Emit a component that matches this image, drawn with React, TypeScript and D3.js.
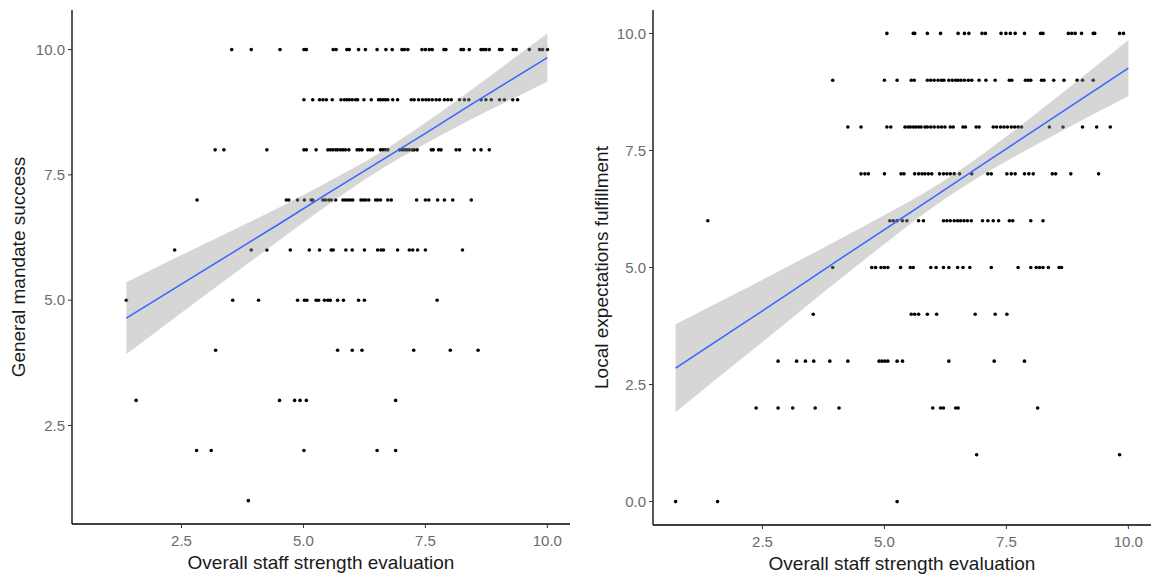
import React from "react";
import * as d3 from "d3";

// x value (overall staff strength evaluation) of each point, grouped by integer y row
const leftRowValues = [10, 9, 8, 7, 6, 5, 4, 3, 2, 1];
const leftRowX = [
  [3.53, 3.93, 4.52, 5.01, 5.06, 5.61, 5.67, 5.89, 5.94, 6.13, 6.27, 6.51, 6.69, 6.82, 7.02, 7.07, 7.14, 7.43, 7.5, 7.58, 7.64, 7.88, 7.92, 8.23, 8.28, 8.4, 8.64, 8.69, 8.74, 8.81, 9.02, 9.07, 9.3, 9.36, 9.63, 9.84, 9.9, 10.0],
  [5.01, 5.19, 5.33, 5.4, 5.47, 5.59, 5.77, 5.84, 5.89, 5.94, 6.0, 6.07, 6.11, 6.24, 6.39, 6.54, 6.58, 6.63, 6.68, 6.73, 6.83, 6.93, 7.21, 7.27, 7.36, 7.44, 7.51, 7.57, 7.64, 7.72, 7.79, 7.89, 7.96, 8.03, 8.2, 8.3, 8.39, 8.64, 8.74, 8.85, 9.02, 9.12, 9.29, 9.39],
  [3.19, 3.37, 4.25, 5.01, 5.06, 5.26, 5.5, 5.55, 5.6, 5.66, 5.7, 5.76, 5.81, 5.86, 5.93, 6.1, 6.15, 6.2, 6.32, 6.37, 6.42, 6.58, 6.63, 6.68, 6.73, 6.97, 7.02, 7.07, 7.12, 7.17, 7.23, 7.27, 7.33, 7.62, 7.66, 7.77, 7.82, 8.13, 8.2, 8.5, 8.64, 8.81],
  [2.82, 4.65, 4.7, 4.88, 5.02, 5.16, 5.19, 5.4, 5.45, 5.52, 5.57, 5.66, 5.81, 5.86, 5.91, 5.96, 6.01, 6.18, 6.23, 6.28, 6.34, 6.48, 6.52, 6.58, 6.73, 6.8, 7.32, 7.5, 7.57, 7.75, 7.89, 8.06, 8.44],
  [2.36, 3.93, 4.25, 4.73, 5.12, 5.33, 5.57, 5.61, 5.87, 6.0, 6.25, 6.52, 6.59, 6.64, 6.93, 7.17, 7.24, 7.34, 7.5, 8.26],
  [1.37, 3.55, 4.08, 4.88, 5.02, 5.07, 5.26, 5.31, 5.43, 5.5, 5.55, 5.7, 5.82, 6.13, 6.25, 7.74],
  [3.2, 5.7, 6.0, 6.2, 7.26, 8.01, 8.58],
  [1.57, 4.51, 4.82, 4.93, 5.06, 6.89],
  [2.81, 3.11, 5.01, 6.51, 6.89],
  [3.87],
];

const rightRowValues = [10, 9, 8, 7, 6, 5, 4, 3, 2, 1, 0];
const rightRowX = [
  [5.05, 5.59, 5.62, 5.88, 6.15, 6.51, 6.64, 6.73, 7.0, 7.07, 7.39, 7.49, 7.58, 7.68, 7.87, 8.2, 8.25, 8.77, 8.84, 8.91, 9.04, 9.28, 9.31, 9.82, 9.9],
  [3.94, 5.0, 5.26, 5.55, 5.61, 5.88, 5.95, 6.02, 6.1, 6.17, 6.22, 6.32, 6.39, 6.46, 6.51, 6.57, 6.64, 6.72, 6.79, 6.94, 7.08, 7.27, 7.56, 7.61, 7.89, 7.95, 8.0, 8.22, 8.27, 8.47, 8.68, 8.95, 9.06, 9.28],
  [4.25, 4.52, 5.05, 5.13, 5.42, 5.48, 5.53, 5.59, 5.64, 5.7, 5.75, 5.83, 5.88, 5.95, 6.02, 6.1, 6.17, 6.24, 6.35, 6.41, 6.61, 6.66, 6.88, 6.94, 7.23, 7.3, 7.38, 7.45, 7.52, 7.6, 7.67, 7.74, 7.81, 8.38, 8.66, 9.06, 9.35, 9.63],
  [4.52, 4.6, 4.67, 5.0, 5.34, 5.4, 5.62, 5.7, 5.77, 5.83, 5.9, 5.97, 6.13, 6.21, 6.28, 6.35, 6.43, 6.54, 6.79, 7.12, 7.19, 7.51, 7.6, 7.68, 7.87, 7.96, 8.05, 8.44, 8.51, 8.82, 9.39],
  [1.38, 5.11, 5.18, 5.26, 5.37, 5.46, 5.7, 5.8, 6.21, 6.28, 6.35, 6.43, 6.5, 6.56, 6.63, 6.7, 6.78, 7.01, 7.12, 7.23, 7.34, 7.56, 7.63, 8.0, 8.25],
  [3.94, 4.74, 4.82, 4.93, 5.0, 5.07, 5.33, 5.53, 5.59, 5.95, 6.06, 6.21, 6.32, 6.5, 6.61, 6.75, 7.19, 7.74, 8.0, 8.11, 8.18, 8.25, 8.36, 8.58, 8.63],
  [3.54, 5.55, 5.62, 5.7, 5.88, 6.07, 6.86, 7.27, 7.51],
  [2.82, 3.2, 3.38, 3.55, 3.88, 4.25, 4.89, 4.95, 5.01, 5.07, 5.26, 5.37, 6.32, 7.25, 7.87],
  [2.37, 2.82, 3.12, 3.58, 4.07, 5.99, 6.15, 6.21, 6.46, 6.51, 8.14],
  [6.89, 9.82],
  [0.72, 1.58, 5.26],
];

// linear fit with confidence band
const leftFitX = [1.37, 2.5, 3.5, 4.5, 5.5, 6.5, 7.5, 8.5, 9.25, 10];
const leftFitY = [4.64, 5.32, 5.92, 6.52, 7.13, 7.73, 8.33, 8.94, 9.39, 9.84];
const leftFitLo = [3.92, 4.75, 5.47, 6.19, 6.9, 7.56, 8.12, 8.64, 9.0, 9.36];
const leftFitHi = [5.36, 5.9, 6.37, 6.85, 7.36, 7.9, 8.54, 9.24, 9.78, 10.32];

const rightFitX = [0.72, 2, 3, 4, 5, 6, 7, 8, 9, 10];
const rightFitY = [2.85, 3.73, 4.42, 5.12, 5.81, 6.5, 7.19, 7.88, 8.57, 9.26];
const rightFitLo = [1.91, 2.99, 3.83, 4.68, 5.5, 6.29, 6.97, 7.56, 8.12, 8.66];
const rightFitHi = [3.79, 4.47, 5.01, 5.56, 6.12, 6.71, 7.41, 8.2, 9.02, 9.86];

const xTickValues = [2.5, 5.0, 7.5, 10.0];
const leftYTicks = [2.5, 5.0, 7.5, 10.0];
const rightYTicks = [0.0, 2.5, 5.0, 7.5, 10.0];

const xTitle = "Overall staff strength evaluation";
const leftYTitle = "General mandate success";
const rightYTitle = "Local expectations fulfillment";

const font = "'Liberation Sans', Arial, Helvetica, sans-serif";

type PanelProps = {
  left: number;
  right: number;
  top: number;
  bottom: number;
  yDomain: [number, number];
  rowValues: number[];
  rowX: number[][];
  fitX: number[];
  fitY: number[];
  fitLo: number[];
  fitHi: number[];
  yTicks: number[];
  yTitle: string;
  yTitleX: number;
};

const Panel = (p: PanelProps) => {
  const x = d3.scaleLinear().domain([0.256, 10.464]).range([p.left, p.right]);
  const y = d3.scaleLinear().domain(p.yDomain).range([p.bottom, p.top]);

  const points = p.rowValues.flatMap((v, i) => p.rowX[i].map(xv => ({ x: xv, y: v })));
  const fit = p.fitX.map((xv, i) => ({ x: xv, y: p.fitY[i], lo: p.fitLo[i], hi: p.fitHi[i] }));

  const band = d3.area<any>()
    .x(d => x(d.x))
    .y0(d => y(d.lo))
    .y1(d => y(d.hi))
    .curve(d3.curveMonotoneX);
  const line = d3.line<any>()
    .x(d => x(d.x))
    .y(d => y(d.y));

  const midY = (p.top + p.bottom) / 2;
  const midX = (p.left + p.right) / 2;

  return (
    <g>
      {points.map((d, i) => (
        <circle key={i} cx={x(d.x)} cy={y(d.y)} r={1.8} fill="black" />
      ))}
      <path d={band(fit) || ""} fill="#999999" fillOpacity={0.4} stroke="none" />
      <path d={line(fit) || ""} fill="none" stroke="#3366FF" strokeWidth={1.5} />

      <line x1={p.left} x2={p.left} y1={p.top} y2={p.bottom} stroke="black" strokeWidth={1.3} />
      <line x1={p.left} x2={p.right} y1={p.bottom} y2={p.bottom} stroke="black" strokeWidth={1.3} />

      {xTickValues.map(t => (
        <g key={t} transform={`translate(${x(t)},${p.bottom})`}>
          <line y1={0} y2={4} stroke="#333333" strokeWidth={1} />
          <text y={22} textAnchor="middle" fontSize={15} fill="#6b6b6b" fontFamily={font}>
            {d3.format(".1f")(t)}
          </text>
        </g>
      ))}
      {p.yTicks.map(t => (
        <g key={t} transform={`translate(${p.left},${y(t)})`}>
          <line x1={-4} x2={0} stroke="#333333" strokeWidth={1} />
          <text x={-7} dy="0.35em" textAnchor="end" fontSize={15} fill="#6b6b6b" fontFamily={font}>
            {d3.format(".1f")(t)}
          </text>
        </g>
      ))}

      <text x={midX} y={p.bottom + 45} textAnchor="middle" fontSize={19} fill="#1a1a1a" fontFamily={font}>
        {xTitle}
      </text>
      <text
        transform={`translate(${p.yTitleX},${midY}) rotate(-90)`}
        textAnchor="middle"
        dy="0.35em"
        fontSize={19}
        fill="#1a1a1a"
        fontFamily={font}
      >
        {p.yTitle}
      </text>
    </g>
  );
};

const App = () => {
  const width = 1155, height = 583;
  return (
    <svg
      width={width}
      height={height}
      style={{ position: "absolute", left: 0, top: 0, background: "white" }}
    >
      <rect width={width} height={height} fill="white" />
      <Panel
        left={72} right={570} top={10} bottom={524}
        yDomain={[0.534, 10.79]}
        rowValues={leftRowValues} rowX={leftRowX}
        fitX={leftFitX} fitY={leftFitY} fitLo={leftFitLo} fitHi={leftFitHi}
        yTicks={leftYTicks} yTitle={leftYTitle} yTitleX={18}
      />
      <Panel
        left={653} right={1151} top={10} bottom={525}
        yDomain={[-0.5, 10.5]}
        rowValues={rightRowValues} rowX={rightRowX}
        fitX={rightFitX} fitY={rightFitY} fitLo={rightFitLo} fitHi={rightFitHi}
        yTicks={rightYTicks} yTitle={rightYTitle} yTitleX={601}
      />
    </svg>
  );
};

export default App;
